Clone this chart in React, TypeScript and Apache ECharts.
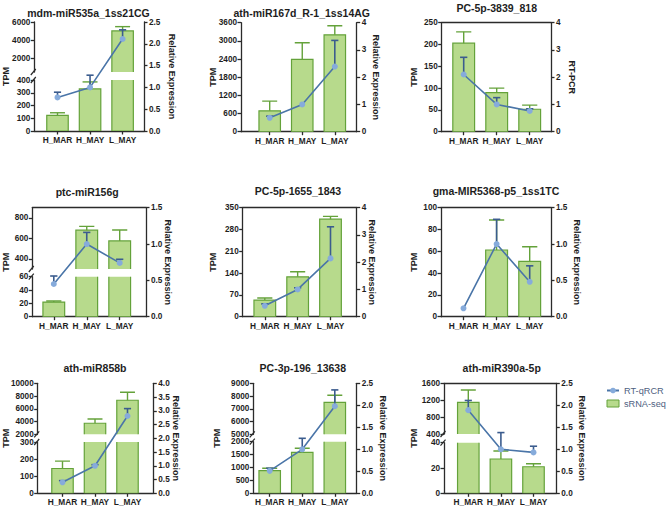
import React, { useEffect, useRef } from 'react';
import * as echarts from 'echarts';

const categories = ['H_MAR', 'H_MAY', 'L_MAY'];

// sRNA-seq TPM (bar height and upper error limit) and RT-qPCR relative expression (point and upper error limit)
const miR535aTpm = [123, 330, 5020];
const miR535aTpmErr = [143, 385, 5490];
const miR535aRel = [0.77, 1.0, 2.11];
const miR535aRelErr = [0.89, 1.28, 2.32];
const miR535aTicksUpper = [2000, 4000, 6000];
const miR535aTicksLower = [0, 100, 200, 300, 400];

const miR167dTpm = [690, 2390, 3200];
const miR167dTpmErr = [1010, 2940, 3500];
const miR167dRel = [0.51, 1.0, 2.39];
const miR167dRelErr = [0.57, 1.0, 3.35];
const miR167dTicks = [0, 600, 1200, 1800, 2400, 3000, 3600];

const pc3839Tpm = [203, 89.5, 51.5];
const pc3839TpmErr = [229, 100, 61];
const pc3839Rel = [2.1, 1.0, 0.76];
const pc3839RelErr = [2.73, 1.25, 0.84];
const pc3839Ticks = [0, 50, 100, 150, 200, 250];

const miR156gTpm = [22, 680, 575];
const miR156gTpmErr = [23.5, 717, 681];
const miR156gRel = [0.45, 1.0, 0.74];
const miR156gRelErr = [0.56, 1.16, 0.79];
const miR156gTicksUpper = [400, 600, 800];
const miR156gTicksLower = [0, 20, 40, 60];

const pc1655Tpm = [53.5, 128, 313];
const pc1655TpmErr = [60, 144.5, 322];
const pc1655Rel = [0.4, 1.0, 2.14];
const pc1655RelErr = [0.47, 1.06, 3.3];
const pc1655Ticks = [0, 70, 140, 210, 280, 350];

const miR5368Tpm = [0, 61.2, 50.8];
const miR5368TpmErr = [0, 88.7, 64.2];
const miR5368Rel = [0.115, 1.0, 0.48];
const miR5368RelErr = [0.115, 1.34, 0.7];
const miR5368Ticks = [0, 20, 40, 60, 80, 100];

const miR858bTpm = [145, 3730, 7340];
const miR858bTpmErr = [188, 4400, 8590];
const miR858bRel = [0.4, 1.0, 2.81];
const miR858bRelErr = [0.46, 1.04, 3.08];
const miR858bTicksUpper = [2000, 4000, 6000, 8000, 10000];
const miR858bTicksLower = [0, 100, 200, 300];

const pc196Tpm = [876, 1590, 7510];
const pc196TpmErr = [969, 1744, 8060];
const pc196Rel = [0.51, 1.0, 1.98];
const pc196RelErr = [0.57, 1.25, 2.35];
const pc196TicksUpper = [5000, 6000, 7000, 8000, 9000];
const pc196TicksLower = [0, 500, 1000, 1500, 2000];

const miR390aTpm = [1150, 27.1, 21];
const miR390aTpmErr = [1442, 33.4, 23.4];
const miR390aRel = [1.89, 1.0, 0.93];
const miR390aRelErr = [2.11, 1.38, 1.07];
const miR390aTicksUpper = [400, 800, 1200, 1600];
const miR390aTicksLower = [0, 20, 40];

const FONT = '"Liberation Sans", Arial, Helvetica, sans-serif';
const AXIS = '#2b2b2b';
const TEXT = '#1e1e1e';
const BAR_FILL = '#b7da8c';
const BAR_EDGE = '#64a23a';
const LINE = '#4a75a8';
const DOT = '#86abdb';
const ERR_BLUE = '#3b5c8e';

type Seg = { min: number; max: number; ticks: number[]; top: number; bottom: number };
type Panel = {
  title: string; titleX: number; titleY: number;
  axL: number; axR: number; top: number; bottom: number;
  c0: number; c2: number;
  segs: Seg[];
  relMax: number; relStep: number; relDec: number;
  rightName: string; leftNameX: number; rightNameX: number;
  frame: boolean;
  tpm: number[]; tpmErr: number[]; rel: number[]; relErr: number[];
};

const panels: Panel[] = [
  {
    title: 'mdm-miR535a_1ss21CG', titleX: 88.5, titleY: 13,
    axL: 34.3, axR: 144, top: 22, bottom: 131, c0: 57.5, c2: 122.6,
    segs: [
      { min: 500, max: 6000, ticks: miR535aTicksUpper, top: 22, bottom: 72 },
      { min: 0, max: 400, ticks: miR535aTicksLower, top: 80, bottom: 131 },
    ],
    relMax: 2.5, relStep: 0.5, relDec: 1,
    rightName: 'Relative Expression', leftNameX: 6, rightNameX: 171.7, frame: false,
    tpm: miR535aTpm, tpmErr: miR535aTpmErr, rel: miR535aRel, relErr: miR535aRelErr,
  },
  {
    title: 'ath-miR167d_R-1_1ss14AG', titleX: 301.7, titleY: 13,
    axL: 241, axR: 356.7, top: 22.7, bottom: 131.7, c0: 269.7, c2: 334.8,
    segs: [{ min: 0, max: 3600, ticks: miR167dTicks, top: 22.7, bottom: 131.7 }],
    relMax: 4, relStep: 1, relDec: 0,
    rightName: 'Relative Expression', leftNameX: 213, rightNameX: 375.7, frame: false,
    tpm: miR167dTpm, tpmErr: miR167dTpmErr, rel: miR167dRel, relErr: miR167dRelErr,
  },
  {
    title: 'PC-5p-3839_818', titleX: 496.7, titleY: 8,
    axL: 441.7, axR: 551, top: 22.7, bottom: 131.7, c0: 463.7, c2: 529.7,
    segs: [{ min: 0, max: 250, ticks: pc3839Ticks, top: 22.7, bottom: 131.7 }],
    relMax: 4, relStep: 1, relDec: 0,
    rightName: 'RT-PCR', leftNameX: 414, rightNameX: 571.7, frame: true,
    tpm: pc3839Tpm, tpmErr: pc3839TpmErr, rel: pc3839Rel, relErr: pc3839RelErr,
  },
  {
    title: 'ptc-miR156g', titleX: 87.2, titleY: 191.7,
    axL: 32.3, axR: 146, top: 207.7, bottom: 316.7, c0: 53.8, c2: 119.7,
    segs: [
      { min: 300, max: 900, ticks: miR156gTicksUpper, top: 207.7, bottom: 269 },
      { min: 0, max: 60, ticks: miR156gTicksLower, top: 276.7, bottom: 316.7 },
    ],
    relMax: 1.5, relStep: 0.5, relDec: 1,
    rightName: 'Relative Expression', leftNameX: 6, rightNameX: 167.7, frame: true,
    tpm: miR156gTpm, tpmErr: miR156gTpmErr, rel: miR156gRel, relErr: miR156gRelErr,
  },
  {
    title: 'PC-5p-1655_1843', titleX: 298, titleY: 190.7,
    axL: 242.7, axR: 356.7, top: 207.7, bottom: 316.7, c0: 264.8, c2: 330.5,
    segs: [{ min: 0, max: 350, ticks: pc1655Ticks, top: 207.7, bottom: 316.7 }],
    relMax: 4, relStep: 1, relDec: 0,
    rightName: 'Relative Expression', leftNameX: 213, rightNameX: 372.3, frame: true,
    tpm: pc1655Tpm, tpmErr: pc1655TpmErr, rel: pc1655Rel, relErr: pc1655RelErr,
  },
  {
    title: 'gma-MIR5368-p5_1ss1TC', titleX: 496, titleY: 190.7,
    axL: 441, axR: 551, top: 207.7, bottom: 316.7, c0: 463.5, c2: 529.7,
    segs: [{ min: 0, max: 100, ticks: miR5368Ticks, top: 207.7, bottom: 316.7 }],
    relMax: 1.5, relStep: 0.5, relDec: 1,
    rightName: 'Relative Expression', leftNameX: 414.3, rightNameX: 576.7, frame: true,
    tpm: miR5368Tpm, tpmErr: miR5368TpmErr, rel: miR5368Rel, relErr: miR5368RelErr,
  },
  {
    title: 'ath-miR858b', titleX: 95, titleY: 368.3,
    axL: 37.7, axR: 153.3, top: 383.3, bottom: 493.3, c0: 62.5, c2: 127.5,
    segs: [
      { min: 2000, max: 10000, ticks: miR858bTicksUpper, top: 383.3, bottom: 434.3 },
      { min: 0, max: 300, ticks: miR858bTicksLower, top: 442, bottom: 493.3 },
    ],
    relMax: 4, relStep: 0.5, relDec: 1,
    rightName: 'Relative Expression', leftNameX: 6, rightNameX: 175.7, frame: false,
    tpm: miR858bTpm, tpmErr: miR858bTpmErr, rel: miR858bRel, relErr: miR858bRelErr,
  },
  {
    title: 'PC-3p-196_13638', titleX: 302.8, titleY: 368.3,
    axL: 253.3, axR: 356.7, top: 383.3, bottom: 493.3, c0: 269.7, c2: 334.8,
    segs: [
      { min: 5000, max: 9000, ticks: pc196TicksUpper, top: 383.3, bottom: 434.3 },
      { min: 0, max: 2000, ticks: pc196TicksLower, top: 441.7, bottom: 493.3 },
    ],
    relMax: 2.5, relStep: 0.5, relDec: 1,
    rightName: 'Relative Expression', leftNameX: 216.7, rightNameX: 383.3, frame: false,
    tpm: pc196Tpm, tpmErr: pc196TpmErr, rel: pc196Rel, relErr: pc196RelErr,
  },
  {
    title: 'ath-miR390a-5p', titleX: 501.7, titleY: 368.3,
    axL: 444, axR: 556.3, top: 383.3, bottom: 493.3, c0: 468.3, c2: 533.5,
    segs: [
      { min: 400, max: 1600, ticks: miR390aTicksUpper, top: 383.3, bottom: 434 },
      { min: 0, max: 40, ticks: miR390aTicksLower, top: 442.7, bottom: 493.3 },
    ],
    relMax: 2.5, relStep: 0.5, relDec: 1,
    rightName: 'Relative Expression', leftNameX: 414.3, rightNameX: 581.7, frame: true,
    tpm: miR390aTpm, tpmErr: miR390aTpmErr, rel: miR390aRel, relErr: miR390aRelErr,
  },
];

const axisLineStyle = { color: AXIS, width: 1.3 };
const tickLabel = { color: TEXT, fontFamily: FONT, fontWeight: 'bold' as const, fontSize: 8.2 };

// Green bars: the grid clip path cuts them cleanly at axis breaks
const barItem = (_params: any, api: any) => {
  const x = api.value(0);
  const v = api.value(1);
  if (!(v > 0)) return null;
  const top = api.coord([x, v]);
  const base = api.coord([x, 0]);
  const w = api.size([1, 0])[0] * 0.66;
  return {
    type: 'rect',
    shape: { x: top[0] - w / 2, y: top[1], width: w, height: base[1] - top[1] },
    style: { fill: BAR_FILL, stroke: BAR_EDGE, lineWidth: 1.2 },
  };
};

// Upward error bar with a cap
const errItem = (color: string, capRatio: number, width: number) => (_params: any, api: any) => {
  const x = api.value(0);
  const lo = api.value(1);
  const hi = api.value(2);
  if (!(hi > lo)) return null;
  const a = api.coord([x, lo]);
  const b = api.coord([x, hi]);
  const cap = api.size([1, 0])[0] * capRatio;
  return {
    type: 'group',
    children: [
      { type: 'line', shape: { x1: a[0], y1: a[1], x2: b[0], y2: b[1] }, style: { stroke: color, lineWidth: width } },
      { type: 'line', shape: { x1: b[0] - cap, y1: b[1], x2: b[0] + cap, y2: b[1] }, style: { stroke: color, lineWidth: width } },
    ],
  };
};

function buildOption() {
  const grid: any[] = [];
  const xAxis: any[] = [];
  const yAxis: any[] = [];
  const series: any[] = [];
  const graphic: any[] = [];

  panels.forEach((p) => {
    const sp = (p.c2 - p.c0) / 2;
    const xMin = -(p.c0 - p.axL) / sp;
    const xMax = 2 + (p.axR - p.c2) / sp;
    const box = (top: number, bottom: number) => ({
      left: p.axL, top, width: p.axR - p.axL, height: bottom - top, containLabel: false,
    });

    // Full-height grid: category axis, right-hand expression axis and the qPCR line
    const gFull = grid.length;
    grid.push(box(p.top, p.bottom));
    const xFull = xAxis.length;
    xAxis.push({
      type: 'value', gridIndex: gFull, min: xMin, max: xMax, position: 'bottom',
      axisLine: { show: true, onZero: false, lineStyle: axisLineStyle },
      axisTick: { show: true, customValues: [0, 1, 2], length: 3.5, lineStyle: axisLineStyle },
      axisLabel: {
        customValues: [0, 1, 2], formatter: (v: number) => categories[Math.round(v)] ?? '',
        margin: 5, ...tickLabel, fontSize: 8.3,
      },
      splitLine: { show: false },
    });
    if (p.frame) {
      xAxis.push({
        type: 'value', gridIndex: gFull, min: xMin, max: xMax, position: 'top',
        axisLine: { show: true, onZero: false, lineStyle: axisLineStyle },
        axisTick: { show: false }, axisLabel: { show: false }, splitLine: { show: false },
      });
    }
    const yRel = yAxis.length;
    yAxis.push({
      type: 'value', gridIndex: gFull, position: 'right', min: 0, max: p.relMax, interval: p.relStep,
      axisLine: { show: true, onZero: false, lineStyle: axisLineStyle },
      axisTick: { show: true, length: 3.5, lineStyle: axisLineStyle },
      axisLabel: { formatter: (v: number) => v.toFixed(p.relDec), margin: 5, ...tickLabel },
      splitLine: { show: false },
    });

    series.push({
      type: 'line', name: 'RT-qRCR', xAxisIndex: xFull, yAxisIndex: yRel,
      data: p.rel.map((v, i) => [i, v]),
      symbol: 'circle', symbolSize: 6, showSymbol: true,
      lineStyle: { color: LINE, width: 1.6 }, itemStyle: { color: DOT },
      z: 5, silent: true, clip: false,
    });
    series.push({
      type: 'custom', name: 'RT-qRCR-err', xAxisIndex: xFull, yAxisIndex: yRel,
      data: p.rel.map((v, i) => [i, v, p.relErr[i]]),
      renderItem: errItem(ERR_BLUE, 0.11, 1.6), z: 4, silent: true, clip: false,
    });

    // One grid per axis segment for the TPM bars
    const broken = p.segs.length > 1;
    p.segs.forEach((s, k) => {
      const g = grid.length;
      grid.push(box(s.top, s.bottom));
      const xi = xAxis.length;
      xAxis.push({ type: 'value', gridIndex: g, min: xMin, max: xMax, show: false });
      const yi = yAxis.length;
      // nudge labels apart where the two segments meet
      const pad = !broken ? 0 : k === 0 ? [0, 0, 3, 0] : [3, 0, 0, 0];
      yAxis.push({
        type: 'value', gridIndex: g, position: 'left', min: s.min, max: s.max,
        axisLine: { show: true, onZero: false, lineStyle: axisLineStyle },
        axisTick: { show: true, customValues: s.ticks, length: 3.5, lineStyle: axisLineStyle },
        axisLabel: {
          customValues: s.ticks, formatter: (v: number) => String(v), margin: 4, padding: pad, ...tickLabel,
        },
        splitLine: { show: false },
      });
      series.push({
        type: 'custom', name: 'sRNA-seq', xAxisIndex: xi, yAxisIndex: yi,
        data: p.tpm.map((v, i) => [i, v]),
        itemStyle: { color: BAR_FILL, borderColor: BAR_EDGE, borderWidth: 1 },
        renderItem: barItem, z: 2, silent: true, clip: true,
      });
      series.push({
        type: 'custom', name: 'sRNA-seq-err', xAxisIndex: xi, yAxisIndex: yi,
        data: p.tpm.map((v, i) => [i, v, p.tpmErr[i]]),
        renderItem: errItem(BAR_EDGE, 0.23, 1.4), z: 3, silent: true, clip: true,
      });
    });

    // Break marks on the left axis
    if (broken) {
      [p.segs[0].bottom, p.segs[1].top].forEach((y) => {
        graphic.push({
          type: 'line', silent: true,
          shape: { x1: p.axL - 3.5, y1: y + 3, x2: p.axL + 1.5, y2: y - 3 },
          style: { stroke: AXIS, lineWidth: 1.2 },
        });
      });
    }

    const midY = (p.top + p.bottom) / 2;
    graphic.push({
      type: 'text', silent: true, x: p.titleX, y: p.titleY,
      style: {
        text: p.title, fill: TEXT, font: `bold 10.5px ${FONT}`,
        align: 'center', verticalAlign: 'middle', textAlign: 'center', textVerticalAlign: 'middle',
      },
    });
    graphic.push({
      type: 'text', silent: true, x: p.leftNameX, y: midY, rotation: Math.PI / 2,
      style: {
        text: 'TPM', fill: TEXT, font: `bold 9px ${FONT}`,
        align: 'center', verticalAlign: 'middle', textAlign: 'center', textVerticalAlign: 'middle',
      },
    });
    graphic.push({
      type: 'text', silent: true, x: p.rightNameX, y: midY, rotation: -Math.PI / 2,
      style: {
        text: p.rightName, fill: TEXT, font: `bold 9px ${FONT}`,
        align: 'center', verticalAlign: 'middle', textAlign: 'center', textVerticalAlign: 'middle',
      },
    });
  });

  return {
    animation: false,
    backgroundColor: '#ffffff',
    textStyle: { fontFamily: FONT },
    legend: {
      orient: 'vertical', left: 601, top: 381, padding: 5, itemWidth: 12, itemHeight: 7, itemGap: 4,
      selectedMode: false,
      textStyle: { fontFamily: FONT, fontSize: 9.2, color: '#4f5f7f' },
      data: [
        { name: 'RT-qRCR' },
        { name: 'sRNA-seq', icon: 'rect', itemStyle: { color: BAR_FILL, borderColor: BAR_EDGE, borderWidth: 1 } },
      ],
    },
    grid, xAxis, yAxis, series,
    graphic: { elements: graphic },
  };
}

export default function App() {
  const ref = useRef<HTMLDivElement>(null);
  useEffect(() => {
    if (!ref.current) return;
    const chart = echarts.init(ref.current, null, { renderer: 'svg' });
    chart.setOption(buildOption() as any);
    return () => chart.dispose();
  }, []);
  return (
    <div
      ref={ref}
      style={{ position: 'fixed', left: 0, top: 0, width: 669, height: 509, background: '#fff' }}
    />
  );
}
